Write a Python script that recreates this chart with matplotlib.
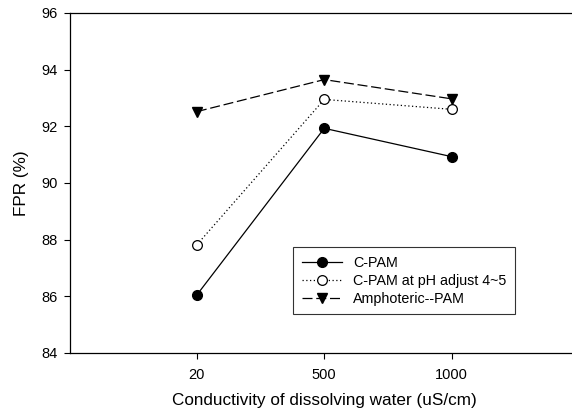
import matplotlib
matplotlib.use('Agg')
import matplotlib.pyplot as plt

plt.rcParams['font.family'] = ['Liberation Sans', 'DejaVu Sans']

conductivity = ['20', '500', '1000']
cpam = [86.05, 91.93, 90.93]
cpam_ph = [87.82, 92.95, 92.6]
amphoteric = [92.52, 93.65, 92.97]

fig = plt.figure(figsize=(5.72, 4.17), dpi=100)
ax = fig.add_axes([69.5 / 572, 64 / 417, (579 - 69.5) / 572, 340 / 417])

pos = [1, 2, 3]
ax.plot(pos, cpam, color='black', lw=0.9, ls='-', marker='o', ms=7,
        mfc='black', mec='black', label='C-PAM')
ax.plot(pos, cpam_ph, color='black', lw=0.9, ls=(0, (1, 2)), marker='o', ms=7,
        mfc='white', mec='black', mew=0.9, label='C-PAM at pH adjust 4~5')
ax.plot(pos, amphoteric, color='black', lw=0.9, ls=(0, (8, 3)), marker='v', ms=7.5,
        mfc='black', mec='black', label='Amphoteric--PAM')

ax.set_xlim(0, 4)
ax.set_ylim(84, 96)
ax.set_xticks(pos)
ax.set_xticklabels(conductivity)
ax.set_yticks(range(84, 97, 2))
ax.tick_params(direction='out', length=4.5, width=0.8, labelsize=10.5, pad=4)
ax.tick_params(axis='x', pad=6)
for s in ax.spines.values():
    s.set_linewidth(0.9)

ax.set_xlabel('Conductivity of dissolving water (uS/cm)', fontsize=12.3, labelpad=8)
ax.set_ylabel('FPR (%)', fontsize=12.3, labelpad=9)

leg = ax.legend(loc='upper left', bbox_to_anchor=(293 / 572, 1 - 247 / 417),
                bbox_transform=fig.transFigure, fontsize=10.3, frameon=True,
                fancybox=False, edgecolor='black', handlelength=2.8,
                labelspacing=0.28, borderpad=0.6, handletextpad=0.8,
                borderaxespad=0)
leg.get_frame().set_linewidth(0.8)

fig.savefig('out.png', dpi=100)
